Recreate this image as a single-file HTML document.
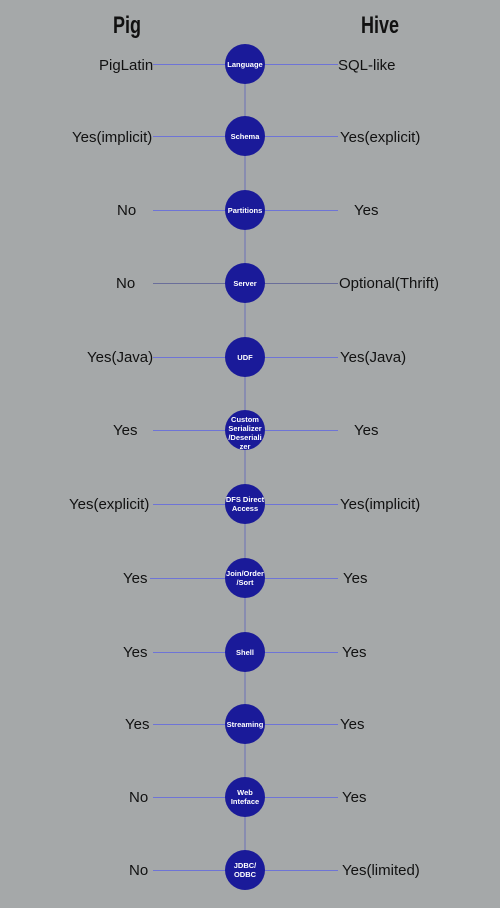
<!DOCTYPE html>
<html><head><meta charset="utf-8"><style>
html,body{margin:0;padding:0;background:#a5a8a9;}
svg{display:block}
.t{font-family:"Liberation Sans",Arial,sans-serif;font-size:15px;fill:#111;}
.n{font-family:"Liberation Sans",Arial,sans-serif;font-size:7.5px;font-weight:bold;fill:#fff;text-anchor:middle;}
.h{font-family:"Liberation Sans",sans-serif;font-size:24px;font-weight:bold;fill:#111;text-anchor:middle;}
</style></head><body>
<svg width="500" height="908" viewBox="0 0 500 908">
<rect width="500" height="908" fill="#a5a8a9"/>
<text class="h" x="127" y="33" transform="translate(127 0) scale(0.75 1) translate(-127 0)">Pig</text>
<text class="h" x="380" y="33" transform="translate(380 0) scale(0.75 1) translate(-380 0)">Hive</text>
<line x1="245" y1="64" x2="245" y2="870" stroke="#6a6fb8" stroke-width="1"/>
<g stroke="#6e74d6" stroke-width="1">
<line x1="153" y1="64.5" x2="338" y2="64.5"/>
<line x1="153" y1="136.5" x2="338" y2="136.5"/>
<line x1="153" y1="210.5" x2="338" y2="210.5"/>
<line x1="153" y1="283.5" x2="338" y2="283.5" stroke="#6a6e9a"/>
<line x1="153" y1="357.5" x2="338" y2="357.5"/>
<line x1="153" y1="430.5" x2="338" y2="430.5"/>
<line x1="153" y1="504.5" x2="338" y2="504.5"/>
<line x1="150" y1="578.5" x2="338" y2="578.5"/>
<line x1="153" y1="652.5" x2="338" y2="652.5"/>
<line x1="153" y1="724.5" x2="338" y2="724.5"/>
<line x1="153" y1="797.5" x2="338" y2="797.5"/>
<line x1="153" y1="870.5" x2="338" y2="870.5"/>
</g>
<g fill="#1a1a99">
<circle cx="245" cy="64" r="20"/><circle cx="245" cy="136" r="20"/><circle cx="245" cy="210" r="20"/>
<circle cx="245" cy="283" r="20"/><circle cx="245" cy="357" r="20"/><circle cx="245" cy="430" r="20"/>
<circle cx="245" cy="504" r="20"/><circle cx="245" cy="578" r="20"/><circle cx="245" cy="652" r="20"/>
<circle cx="245" cy="724" r="20"/><circle cx="245" cy="797" r="20"/><circle cx="245" cy="870" r="20"/>
</g>
<text class="n" x="245" y="67">Language</text>
<text class="n" x="245" y="139">Schema</text>
<text class="n" x="245" y="213">Partitions</text>
<text class="n" x="245" y="286">Server</text>
<text class="n" x="245" y="360">UDF</text>
<text class="n" x="245" y="422">Custom</text>
<text class="n" x="245" y="431">Serializer</text>
<text class="n" x="245" y="440">/Deseriali</text>
<text class="n" x="245" y="449">zer</text>
<text class="n" x="245" y="502">DFS Direct</text>
<text class="n" x="245" y="511">Access</text>
<text class="n" x="245" y="576">Join/Order</text>
<text class="n" x="245" y="585">/Sort</text>
<text class="n" x="245" y="655">Shell</text>
<text class="n" x="245" y="727">Streaming</text>
<text class="n" x="245" y="795">Web</text>
<text class="n" x="245" y="804">Inteface</text>
<text class="n" x="245" y="868">JDBC/</text>
<text class="n" x="245" y="877">ODBC</text>
<g class="t">
<text class="t" x="99" y="70">PigLatin</text><text class="t" x="338" y="70">SQL-like</text>
<text class="t" x="72" y="142">Yes(implicit)</text><text class="t" x="340" y="142">Yes(explicit)</text>
<text class="t" x="117" y="215">No</text><text class="t" x="354" y="215">Yes</text>
<text class="t" x="116" y="288">No</text><text class="t" x="339" y="288">Optional(Thrift)</text>
<text class="t" x="87" y="362">Yes(Java)</text><text class="t" x="340" y="362">Yes(Java)</text>
<text class="t" x="113" y="435">Yes</text><text class="t" x="354" y="435">Yes</text>
<text class="t" x="69" y="509">Yes(explicit)</text><text class="t" x="340" y="509">Yes(implicit)</text>
<text class="t" x="123" y="583">Yes</text><text class="t" x="343" y="583">Yes</text>
<text class="t" x="123" y="657">Yes</text><text class="t" x="342" y="657">Yes</text>
<text class="t" x="125" y="729">Yes</text><text class="t" x="340" y="729">Yes</text>
<text class="t" x="129" y="802">No</text><text class="t" x="342" y="802">Yes</text>
<text class="t" x="129" y="875">No</text><text class="t" x="342" y="875">Yes(limited)</text>
</g>
</svg>
</body></html>
